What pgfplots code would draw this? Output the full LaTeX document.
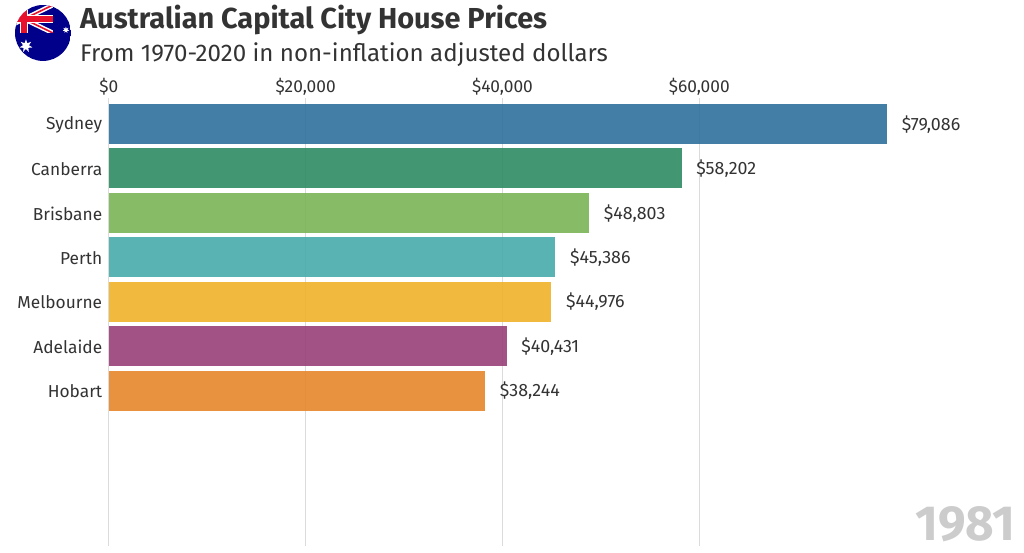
\documentclass[border=0pt]{standalone}
\usepackage{pgfplots}
\pgfplotsset{compat=1.18}
\usepackage{fontspec}
\setmainfont{Fira Sans}
\usetikzlibrary{shapes.geometric}
\definecolor{txt}{HTML}{333333}
\definecolor{cSyd}{HTML}{2F709C}
\definecolor{cCan}{HTML}{2E8B62}
\definecolor{cBri}{HTML}{7AB455}
\definecolor{cPer}{HTML}{48ABAB}
\definecolor{cMel}{HTML}{EFB22A}
\definecolor{cAde}{HTML}{993F78}
\definecolor{cHob}{HTML}{E5862A}
\definecolor{fnavy}{HTML}{00008B}
\definecolor{fred}{HTML}{E8112D}
\pgfplotsset{
 citybar/.style={draw=none,fill=#1,fill opacity=0.9,bar shift=0pt,bar width=30pt,
  nodes near coords={\$\pgfmathprintnumber[assume math mode=true,fixed,1000 sep={,},precision=0]{\pgfplotspointmeta}},
  nodes near coords style={font=\fontsize{13.4}{13}\selectfont,text=txt,fill opacity=1,text opacity=1,anchor=west,xshift=7.5pt,yshift=-0.3pt},
  point meta=x}}
\begin{document}
\begin{tikzpicture}[x=0.75pt,y=-0.75pt]
\path (0,0) rectangle (1024,553);
\begin{axis}[at={(109pt*0.75,-547pt*0.75)},anchor=south west,scale only axis,
 width=687pt,height=336.75pt,
 xmin=0,xmax=92990,ymin=-0.584,ymax=9.506,y dir=reverse,xbar,
 axis line style={draw=none},
 scaled x ticks=false,
 xtick={0,20000,40000,60000},xticklabels={{\$0},{\$20,000},{\$40,000},{\$60,000}},
 xticklabel pos=top,
 ytick={0,1,2,3,4,5,6},yticklabels={Sydney,Canberra,Brisbane,Perth,Melbourne,Adelaide,Hobart},
 major tick length=0pt,
 xmajorgrids,major grid style={draw=black!14,line width=0.8pt},
 tick label style={font=\fontsize{13}{13}\selectfont,text=txt},
 yticklabel style={xshift=-1.5pt,yshift=-0.5pt},
 xticklabel style={yshift=-1.7pt},
 clip=false]
\addplot[citybar=cSyd] coordinates {(79086,0)};
\addplot[citybar=cCan] coordinates {(58202,1)};
\addplot[citybar=cBri] coordinates {(48803,2)};
\addplot[citybar=cPer] coordinates {(45386,3)};
\addplot[citybar=cMel] coordinates {(44976,4)};
\addplot[citybar=cAde] coordinates {(40431,5)};
\addplot[citybar=cHob] coordinates {(38244,6)};
\end{axis}
\node[anchor=base west,inner sep=0pt,font=\fontsize{21.7}{22}\selectfont\bfseries,text=txt] at (80,29) {Australian Capital City House Prices};
\node[anchor=base west,inner sep=0pt,font=\fontsize{18.1}{18}\selectfont,text=txt] at (80,61.5) {From 1970-2020 in non-inflation adjusted dollars};
\node[anchor=base east,inner sep=0pt,font=\fontsize{37}{37}\selectfont\bfseries,text=black!20] at (1017,541) {1981};
\begin{scope}
\clip (43,33) circle (28);
\fill[fnavy] (15,5) rectangle (71,61);
\clip (10,0) rectangle (53,33);
\draw[white,line width=3.5pt] (24,19)--(53,5) (24,19)--(53,33) (24,19)--(-5,5) (24,19)--(-5,33);
\draw[fred,line width=1.2pt] (24,19)--(53,5) (24,19)--(53,33) (24,19)--(-5,5) (24,19)--(-5,33);
\draw[white,line width=6pt] (24,0)--(24,33) (10,19)--(53,19);
\draw[fred,line width=3.8pt] (24,0)--(24,33) (10,19)--(53,19);
\end{scope}
\node[star,star points=7,star point ratio=2.2,fill=white,inner sep=0pt,minimum size=10pt] at (26,46) {};
\node[star,star points=7,star point ratio=2.2,fill=white,inner sep=0pt,minimum size=5pt] at (66,30) {};
\end{tikzpicture}
\end{document}
